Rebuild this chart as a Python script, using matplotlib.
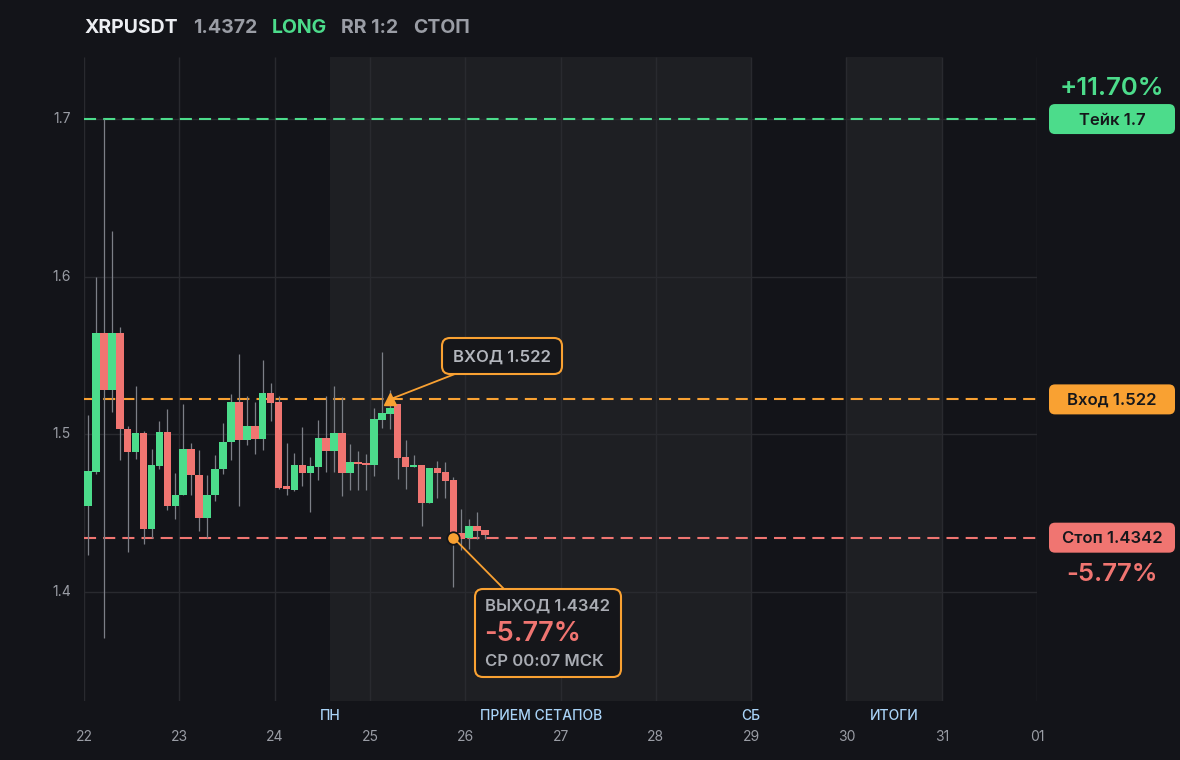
import numpy as np
import matplotlib
matplotlib.use("Agg")
import matplotlib.pyplot as plt
from matplotlib.patches import FancyBboxPatch
from matplotlib.lines import Line2D
from matplotlib.transforms import IdentityTransform

plt.rcParams['font.family'] = ['Inter', 'DejaVu Sans']

# --- data: 2h candles XRPUSDT, starting day 22 ---
start_day = 22
candle_hours = 2
opens = [1.4545, 1.476, 1.564, 1.528, 1.564, 1.503, 1.4886, 1.5008, 1.440, 1.4798,
         1.5013, 1.4545, 1.4615, 1.4907, 1.4743, 1.4464, 1.4616, 1.478, 1.4951, 1.5205,
         1.4964, 1.5053, 1.497, 1.5262, 1.5205, 1.4667, 1.4644, 1.4803, 1.4754, 1.4793,
         1.4975, 1.4894, 1.5006, 1.4754, 1.4822, 1.4814, 1.4803, 1.5089, 1.5127, 1.519,
         1.4852, 1.4793, 1.4801, 1.4564, 1.4784, 1.4759, 1.4708, 1.4369, 1.434, 1.4416,
         1.439]
highs = [1.512, 1.600, 1.700, 1.629, 1.568, 1.5054, 1.5305, 1.5018, 1.4907, 1.508,
         1.516, 1.4755, 1.5192, 1.4945, 1.490, 1.4743, 1.4869, 1.5072, 1.5255, 1.5508,
         1.5243, 1.5205, 1.547, 1.5325, 1.5243, 1.4945, 1.488, 1.5042, 1.4856, 1.5089,
         1.5241, 1.5305, 1.5233, 1.4937, 1.4894, 1.4873, 1.5163, 1.5519, 1.5279, 1.519,
         1.4962, 1.4865, 1.4801, 1.4784, 1.4831, 1.4822, 1.4729, 1.4522, 1.4462, 1.4505,
         1.439]
lows = [1.4235, 1.4747, 1.3705, 1.514, 1.4837, 1.4248, 1.4842, 1.430, 1.4338, 1.4778,
        1.452, 1.4462, 1.4612, 1.4612, 1.4384, 1.4342, 1.4574, 1.4749, 1.4838, 1.4546,
        1.4932, 1.4876, 1.490, 1.5084, 1.4648, 1.4616, 1.464, 1.4672, 1.4507, 1.4708,
        1.4761, 1.4761, 1.4608, 1.4644, 1.4644, 1.4644, 1.4733, 1.5036, 1.503, 1.4712,
        1.4651, 1.4793, 1.4416, 1.4564, 1.4594, 1.4594, 1.4031, 1.4263, 1.4268, 1.4335,
        1.4335]
closes = [1.4765, 1.564, 1.528, 1.564, 1.503, 1.4886, 1.5008, 1.440, 1.4804, 1.5013,
          1.4545, 1.4616, 1.4907, 1.4743, 1.4464, 1.4616, 1.478, 1.4951, 1.5205, 1.4964,
          1.5053, 1.497, 1.5262, 1.5198, 1.466, 1.4648, 1.4803, 1.4754, 1.4797, 1.4975,
          1.4894, 1.5006, 1.4754, 1.4822, 1.481, 1.4803, 1.5095, 1.5131, 1.5167, 1.4848,
          1.4793, 1.4801, 1.4564, 1.4784, 1.4754, 1.4704, 1.4369, 1.4335, 1.4416, 1.4386,
          1.4361]

take_price = 1.7
entry_price = 1.522
stop_price = 1.4342
entry_idx = 38
exit_idx = 46

day_ticks = [22, 23, 24, 25, 26, 27, 28, 29, 30, 31, 32]
day_labels = ['22', '23', '24', '25', '26', '27', '28', '29', '30', '31', '01']
price_ticks = [1.4, 1.5, 1.6, 1.7]
bands = [(24.58, 29.0), (30.0, 31.0)]
band_labels = [(24.58, 'ПН'), (26.8, 'ПРИЕМ СЕТАПОВ'), (29.0, 'СБ'), (30.5, 'ИТОГИ')]

# --- colours ---
BG = '#131419'
BAND = '#1e1f23'
GRID = '#292a2f'
GREEN = '#4cdc8b'
RED = '#f07571'
ORANGE = '#f9a132'
GRAY = '#9a9da5'
WICK = '#7c7f87'

W, H = 1180, 760
fig = plt.figure(figsize=(W / 100, H / 100), dpi=100, facecolor=BG)
ax = fig.add_axes([84 / W, (H - 701) / H, (1037 - 84) / W, (701 - 57) / H])
ax.set_facecolor(BG)
ax.set_xlim(22, 32)
ax.set_ylim(1.3305, 1.7394)
for s in ax.spines.values():
    s.set_visible(False)
ax.set_xticks([])
ax.set_yticks([])

for b0, b1 in bands:
    ax.axvspan(b0, b1, color=BAND, zorder=0, lw=0)
ax.vlines(day_ticks, 1.3305, 1.7394, colors=GRID, lw=1, zorder=1)
ax.hlines(price_ticks, 22, 32, colors=GRID, lw=1, zorder=1)

# level lines
ax.axhline(take_price, color=GREEN, lw=1.5, ls=(0, (5.8, 3.4)), zorder=2)
ax.axhline(entry_price, color=ORANGE, lw=1.5, ls=(0, (5.8, 3.4)), zorder=2)
ax.axhline(stop_price, color=RED, lw=1.5, ls=(0, (5.8, 3.4)), zorder=2)

# candles
o = np.array(opens); c = np.array(closes)
t = start_day + (np.arange(len(o)) + 0.5) * candle_hours / 24
cols = np.where(c >= o, GREEN, RED)
ax.vlines(t, lows, highs, colors=WICK, lw=0.9, zorder=3)
ax.bar(t, np.maximum(np.abs(c - o), 0.0007), bottom=np.minimum(o, c),
       width=0.95 * candle_hours / 24, color=cols, zorder=4, lw=0)

ax.plot(t[entry_idx], entry_price, marker='^', ms=9, color=ORANGE, zorder=6)
ax.plot(t[exit_idx], stop_price, marker='o', ms=9, color=ORANGE, mec=BG, mew=1.3, zorder=6)

# axis labels
for d, lab in zip(day_ticks, day_labels):
    ax.annotate(lab, xy=(d, 0), xycoords=('data', 'axes fraction'), xytext=(0, -36),
                textcoords='offset pixels', ha='center', va='center', color=GRAY, fontsize=10)
for d, lab in band_labels:
    ax.annotate(lab, xy=(d, 0), xycoords=('data', 'axes fraction'), xytext=(0, -15),
                textcoords='offset pixels', ha='center', va='center', color='#a9d3f7',
                fontsize=10, fontweight='medium')
for p in price_ticks:
    ax.annotate(f'{p:.1f}', xy=(0, p), xycoords=('axes fraction', 'data'), xytext=(-13, 0),
                textcoords='offset pixels', ha='right', va='center', color=GRAY, fontsize=10)

PX = IdentityTransform()


def box(x0, y0, x1, y1, ec, fc, lw=1.5, r=8):
    # x/y in image pixels from top-left
    p = FancyBboxPatch((x0, H - y1), x1 - x0, y1 - y0,
                       boxstyle=f'round,pad=0,rounding_size={r}',
                       transform=PX, ec=ec, fc=fc, lw=lw, zorder=5)
    fig.add_artist(p)


def txt(x, y, s, **kw):
    fig.text(x, H - y, s, transform=PX, zorder=6, **kw)


def py(price):
    return H - ax.transData.transform((22, price))[1]


# header
txt(85, 28, 'XRPUSDT', color='#eceef2', fontsize=14, fontweight='bold', va='center')
txt(193, 28, '1.4372', color=GRAY, fontsize=14, fontweight='bold', va='center')
txt(272, 28, 'LONG', color=GREEN, fontsize=14, fontweight='bold', va='center')
txt(341, 28, 'RR 1:2', color=GRAY, fontsize=14, fontweight='bold', va='center')
txt(413, 28, 'СТОП', color=GRAY, fontsize=14, fontweight='bold', va='center')

# right side level labels
for price, label, col in [(take_price, 'Тейк 1.7', GREEN), (entry_price, 'Вход 1.522', ORANGE),
                          (stop_price, 'Стоп 1.4342', RED)]:
    yc = py(price)
    box(1049, yc - 15, 1175, yc + 15, ec=col, fc=col, lw=0, r=6)
    txt(1112, yc + 1, label, color='#16171b', fontsize=12, fontweight='semibold',
        ha='center', va='center')
txt(1112, py(take_price) - 31, '+11.70%', color=GREEN, fontsize=18.5, fontweight='semibold',
    ha='center', va='center')
txt(1112, py(stop_price) + 37, '-5.77%', color=RED, fontsize=18.5, fontweight='semibold',
    ha='center', va='center')

# entry callout
ex, ey = ax.transData.transform((t[entry_idx], entry_price))
fig.add_artist(Line2D([ex, 455], [ey, H - 374], color=ORANGE, lw=1.3, transform=PX, zorder=4))
box(442, 338, 562, 374, ec=ORANGE, fc='#15161a')
txt(502, 357, 'ВХОД 1.522', color='#b3b6bd', fontsize=12, fontweight='semibold', ha='center', va='center')

# exit callout
xx, xy = ax.transData.transform((t[exit_idx], stop_price))
fig.add_artist(Line2D([xx, 504], [xy, H - 589], color=ORANGE, lw=1.3, transform=PX, zorder=4))
box(475, 589, 621, 677, ec=ORANGE, fc='#15161a')
txt(485, 606, 'ВЫХОД 1.4342', color='#a9acb3', fontsize=12, fontweight='semibold', va='center')
txt(484, 634, '-5.77%', color=RED, fontsize=19.5, fontweight='semibold', va='center')
txt(485, 661, 'СР 00:07 МСК', color='#a9acb3', fontsize=12, fontweight='semibold', va='center')

fig.savefig('out.png', dpi=100, facecolor=BG)
